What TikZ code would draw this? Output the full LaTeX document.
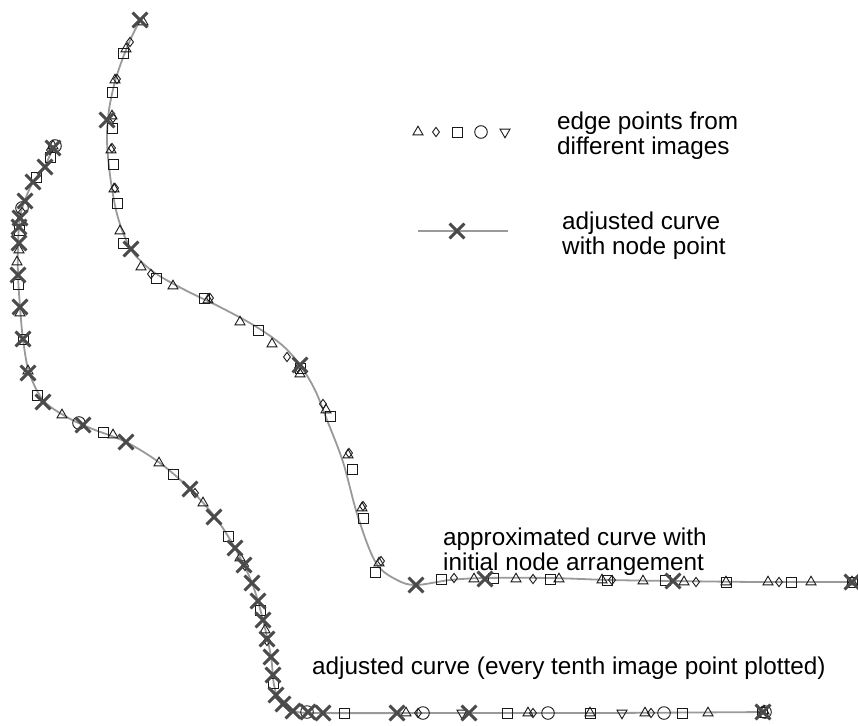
\documentclass[tikz,border=0pt]{standalone}
\usepackage{fontspec}
\setmainfont{Liberation Sans}
\usetikzlibrary{plotmarks}
\definecolor{curvegray}{HTML}{9A9A9A}
\definecolor{nodegray}{HTML}{4A4A4A}
\definecolor{ptblack}{HTML}{1A1A1A}
\tikzset{
  curveline/.style={draw=curvegray, line width=1.8pt, line join=round},
  mtri/.style={mark=triangle, mark size=5.8pt, mark options={draw=ptblack, line width=0.9pt, fill=none}},
  mtridown/.style={mark=triangle, mark size=5.8pt, mark options={draw=ptblack, line width=0.9pt, fill=none, rotate=180}},
  mdia/.style={mark=diamond, mark size=4.6pt, mark options={draw=ptblack, line width=0.9pt, fill=none}},
  msq/.style={mark=square, mark size=5pt, mark options={draw=ptblack, line width=0.9pt, fill=none}},
  mcirc/.style={mark=o, mark size=6.3pt, mark options={draw=ptblack, line width=0.9pt, fill=none}},
  mcross/.style={mark=x, mark size=10.5pt, mark options={draw=nodegray, line width=3pt}},
  lbl/.style={anchor=base west, inner sep=0pt, font=\fontsize{24.3}{25}\selectfont, text=black}
}
\begin{document}
\begin{tikzpicture}[x=1pt,y=-1pt]
\useasboundingbox[fill=white] (0,0) rectangle (858,725);

% ---------- approximated curve (initial node arrangement)
\draw[curveline] plot[smooth, tension=0.55] coordinates {(140,20) (128,45) (116,78) (109,110) (107,140) (110,175) (116,210) (124,235) (135,255) (155,273) (185,290) (220,307) (255,326) (282,345) (300,365) (315,390) (327,420) (343,462) (358,517) (376,563) (397,580) (416,585) (450,580) (485,578) (550,578) (610,580) (673,581) (760,582) (852,582)};

\draw plot[only marks, mtri] coordinates {(143,22) (126,49) (115,80) (112,116) (111,150) (114,189) (120,231) (141,267) (173,286) (208,300) (240,322) (272,344) (300,374) (326,410) (348,455) (362,508) (379,563) (474,579) (516,579) (559,579) (602,580) (643,581) (684,582) (726,582) (768,582) (811,582) (852,582)};
\draw plot[only marks, mdia] coordinates {(130,42) (117,79) (113,118) (112,148) (115,188) (151,274) (210,298) (287,357) (298,368) (323,404) (349,453) (363,506) (381,561) (454,578) (533,579) (612,580) (696,582) (779,582)};
\draw plot[only marks, msq] coordinates {(123,53) (112,92) (112,128) (113,164) (117,203) (123,243) (156,278) (204,298) (258,330) (300,368) (330,416) (352,469) (363,518) (375,572) (441,579) (493,578) (550,579) (607,580) (665,580) (726,582) (791,582) (852,582)};
\draw plot[only marks, mcross] coordinates {(140,20) (107,120) (131,249) (300,365) (416,585) (485,579) (673,581) (852,582)};

% ---------- adjusted curve
\draw[curveline] plot[smooth, tension=0.55] coordinates {(53,147) (45,166) (33,182) (25,200) (20,217) (18,245) (18,275) (20,307) (23,339) (29,372) (43,400) (65,416) (90,428) (126,442) (160,463) (190,489) (215,517) (235,548) (252,583) (263,620) (271,657) (274,685) (280,702) (293,711) (320,713) (450,713) (600,713) (766,712)};

\draw plot[only marks, mtri] coordinates {(53,146) (19,222) (19,250) (17,262) (20,313) (28,371) (62,415) (113,435) (159,463) (203,503) (240,558) (265,630) (406,713) (528,713) (590,713) (645,713) (708,713) (764,711)};
\draw plot[only marks, mdia] coordinates {(50,150) (22,212) (195,493) (245,566) (267,641) (418,713) (533,713) (651,713)};
\draw plot[only marks, msq] coordinates {(50,157) (36,177) (19,230) (18,284) (23,339) (37,395) (103,432) (173,474) (228,536) (260,610) (273,683) (344,713) (507,713) (590,713) (682,713) (762,712)};
\draw plot[only marks, mcirc] coordinates {(55,146) (22,208) (79,423) (307,712) (423,713) (548,713) (664,713) (765,712)};
\draw plot[only marks, mtridown] coordinates {(462,713) (622,713)};
\draw plot[only marks, mcross] coordinates {(53,148) (45,167) (33,182) (25,201) (20,218) (19,227) (19,243) (18,275) (20,307) (23,339) (28,373) (43,402) (83,425) (126,442) (190,489) (214,517) (235,548) (244,565) (252,583) (258,601) (263,620) (267,639) (271,657) (273,675) (276,695) (283,704) (293,711) (308,712) (323,713) (397,713) (469,713) (763,712)};

% ---------- legend
\draw plot[only marks, mtri] coordinates {(418,132)};
\draw plot[only marks, mdia] coordinates {(436,132)};
\draw plot[only marks, msq] coordinates {(457,132)};
\draw plot[only marks, mcirc] coordinates {(481,132)};
\draw plot[only marks, mtridown] coordinates {(505,132)};
\coordinate (legA) at (418,231);
\coordinate (legB) at (508,231);
\draw[curveline] (legA) -- (legB);
\draw plot[only marks, mcross] coordinates {(457,231)};

\node[lbl] (t1a) at (557,129) {edge points from};
\node[lbl] (t1b) at (557,154) {different images};
\node[lbl] (t2a) at (562,229) {adjusted curve};
\node[lbl] (t2b) at (562,254) {with node point};
\node[lbl] (t3a) at (443,545) {approximated curve with};
\node[lbl] (t3b) at (443,570) {initial node arrangement};
\node[lbl] (t4) at (312,674) {adjusted curve (every tenth image point plotted)};
\end{tikzpicture}
\end{document}
